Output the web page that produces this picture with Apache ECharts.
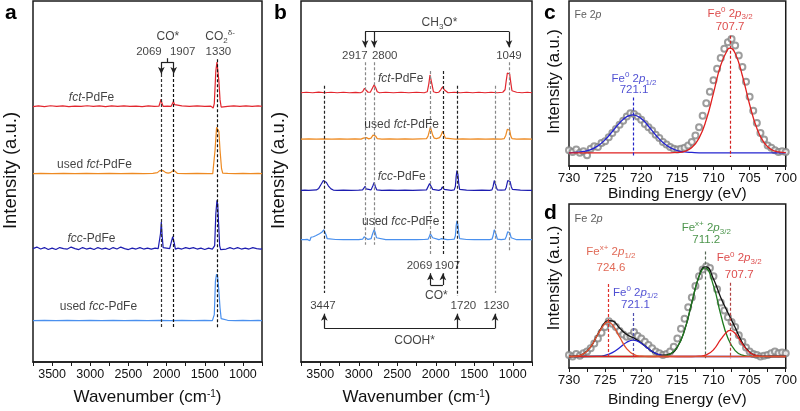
<!DOCTYPE html>
<html><head><meta charset="utf-8">
<script src="https://cdn.jsdelivr.net/npm/echarts/dist/echarts.min.js"></script>
<style>html,body{margin:0;padding:0;background:#fff}#c{width:800px;height:411px}</style>
</head><body><div id="c"></div>
<script>
// ---------------- DATA ----------------
const waveTicks = [3500, 3000, 2500, 2000, 1500, 1000];
const beTicks = [730, 725, 720, 715, 710, 705, 700];
const sampleNames = ['fct-PdFe', 'used fct-PdFe', 'fcc-PdFe', 'used fcc-PdFe'];

// Panel a (DRIFTS, stacked, arbitrary units) [wavenumber, intensity]
const a_fct = [[3750,259],[3680,259.6],[3600,259],[3520,259.8],[3440,259.2],[3360,259.7],[3280,259],[3200,259.5],[3120,259.1],[3040,259.8],[2960,259.2],[2880,259.6],[2800,259],[2720,259.7],[2640,259.2],[2560,259.6],[2480,259.1],[2400,259.5],[2320,259],[2240,259.6],[2160,259.1],[2100,259.3],[2085,260.5],[2072,266.5],[2060,262],[2045,259.2],[1990,259.5],[1940,259.2],[1925,260.5],[1910,264],[1895,261],[1880,259.3],[1800,259.6],[1700,259.1],[1600,259.6],[1500,259.2],[1420,259.4],[1390,257.5],[1375,262],[1355,295],[1340,304],[1330,302],[1315,285],[1300,266],[1285,258.5],[1270,259.6],[1200,259.2],[1120,259.7],[1040,259.1],[960,259.6],[880,259.2],[800,259.6],[750,259.3]];
const a_usedFct = [[3750,191],[3650,191.3],[3500,191],[3350,191.3],[3200,191],[3050,191.3],[2900,191],[2750,191.3],[2600,191],[2450,191.3],[2300,191],[2180,191.3],[2120,192],[2090,194],[2069,196],[2045,194],[2010,192],[1980,191.5],[1950,192],[1925,193.5],[1907,194.5],[1890,192.5],[1860,191.3],[1750,191],[1600,191.3],[1450,191],[1395,191],[1380,193],[1365,215],[1345,238],[1330,240],[1315,234],[1300,215],[1280,196],[1265,191.5],[1200,191.2],[1100,191],[1000,191.3],[900,191],[800,191.3],[750,191]];
const a_fcc = [[3750,115],[3700,116.5],[3650,114.5],[3600,116],[3550,114],[3500,115.5],[3450,114],[3400,116],[3350,115],[3300,114.5],[3250,116.5],[3200,115],[3150,114],[3100,116],[3050,114.5],[3000,115.5],[2950,114],[2900,116],[2850,114.5],[2800,115.5],[2750,114],[2700,116],[2650,114.5],[2600,116.5],[2550,115],[2500,114],[2450,115.5],[2400,114.5],[2350,116],[2300,114.5],[2250,115.5],[2200,114.5],[2150,115.5],[2110,115],[2090,117],[2080,130],[2069,142],[2058,128],[2045,116],[2030,114.5],[2000,115.5],[1960,115],[1935,117],[1920,127],[1910,129],[1898,120],[1885,114.5],[1850,115.5],[1800,114.5],[1750,116],[1700,115],[1650,116],[1600,114.5],[1550,115.5],[1500,114],[1450,115.5],[1400,114.5],[1385,113],[1370,118],[1355,150],[1340,164],[1330,160],[1318,140],[1305,118],[1292,114],[1270,115.5],[1220,114.5],[1170,116],[1120,114.5],[1070,116],[1020,114.5],[970,115.5],[920,114.5],[870,116],[820,115],[770,114.5],[750,115]];
const a_usedFcc = [[3750,42],[3600,42.3],[3450,42],[3300,42.3],[3150,42],[3000,42.3],[2850,42],[2700,42.3],[2550,42],[2400,42.3],[2250,42],[2100,42.3],[1950,42],[1800,42.3],[1650,42],[1500,42.3],[1400,42],[1385,42],[1375,48],[1360,82],[1345,89],[1330,86],[1315,72],[1300,55],[1285,44],[1270,42],[1200,42.3],[1100,42],[1000,42.3],[900,42],[800,42.3],[750,42]];

// Panel b
const b_fct = [[3750,273],[3680,273.5],[3600,273],[3520,273.6],[3440,273],[3360,273.5],[3280,273],[3200,273.5],[3120,273],[3040,273.4],[2980,273],[2950,274],[2925,277.5],[2905,276],[2880,273.5],[2850,273.5],[2820,278],[2800,281],[2780,278],[2760,274],[2730,273],[2650,273.5],[2550,273],[2450,273.5],[2350,273],[2250,273.5],[2150,273],[2110,274],[2090,282],[2075,291],[2060,290],[2045,280],[2030,274],[2000,273.2],[1960,273.5],[1935,276],[1910,279],[1890,276],[1870,274],[1840,273],[1760,273.5],[1680,273],[1600,273.5],[1520,273],[1440,273.5],[1360,273],[1280,273.5],[1200,273],[1130,273.5],[1100,276],[1085,285],[1070,293],[1055,294],[1040,292],[1025,283],[1010,275],[995,273],[950,273.5],[880,273],[810,273.5],[750,273]];
const b_usedFct = [[3750,226],[3650,226.3],[3550,226],[3450,226.3],[3350,226],[3250,226.3],[3150,226],[3050,226.3],[2970,226],[2940,227],[2920,229],[2900,227.5],[2870,226.2],[2840,227],[2815,230],[2800,231],[2780,229],[2760,226.5],[2700,226],[2600,226.3],[2500,226],[2400,226.3],[2300,226],[2200,226.3],[2120,226.5],[2100,229],[2080,235],[2069,238],[2055,236],[2040,230],[2020,227],[1990,226.5],[1950,227.5],[1930,230],[1910,234],[1895,231],[1875,227],[1850,226.2],[1750,226],[1650,226.3],[1550,226],[1450,226.3],[1350,226],[1250,226.3],[1150,226],[1110,226.5],[1090,230],[1070,236],[1055,237],[1040,235],[1025,229],[1010,226.5],[950,226],[850,226.3],[750,226]];
const b_fcc = [[3750,174],[3700,174.3],[3650,174],[3600,174.3],[3550,174.5],[3520,176],[3490,180],[3460,184],[3440,185],[3420,182],[3390,178],[3360,175.5],[3330,174.3],[3280,174],[3200,174.3],[3100,174],[3000,174.3],[2950,174.5],[2930,176],[2917,178],[2905,175.5],[2880,174.3],[2840,174.5],[2815,179],[2800,182],[2785,178],[2765,174.5],[2700,174],[2600,174.3],[2500,174],[2400,174.3],[2300,174],[2200,174.3],[2120,174.5],[2095,176],[2080,181],[2069,183],[2055,180],[2040,175],[2020,174.3],[1960,174],[1930,175],[1915,177.5],[1905,178],[1890,175],[1870,174.2],[1800,174],[1760,174.5],[1745,178],[1735,188],[1725,194],[1712,190],[1700,180],[1690,175],[1670,174],[1600,174.3],[1500,174],[1400,174.3],[1300,174],[1270,174.5],[1255,178],[1240,184],[1225,183],[1212,177],[1200,174.5],[1150,174.3],[1100,174.5],[1085,177],[1065,184],[1050,185],[1035,183],[1020,178],[1005,175],[990,174],[900,174.3],[800,174],[750,174]];
const b_usedFcc = [[3750,124],[3700,124],[3670,124.3],[3650,126],[3635,123],[3620,126.5],[3605,124.5],[3590,127],[3575,126],[3560,128],[3540,128.5],[3510,130],[3480,131.5],[3455,134],[3440,133],[3425,129],[3410,125],[3390,124],[3300,124.2],[3200,124],[3100,124.2],[3000,124],[2950,124.5],[2930,127],[2917,128],[2905,126],[2880,124.3],[2840,125],[2820,130],[2800,134],[2785,131],[2770,126],[2750,124.3],[2650,124],[2550,124.2],[2450,124],[2350,124.2],[2250,124],[2150,124.2],[2100,124.5],[2085,127],[2070,130],[2055,129],[2040,126],[2020,124.3],[1960,124],[1930,125],[1915,126.5],[1905,126],[1890,124.5],[1850,124],[1800,124.2],[1760,124.5],[1745,128],[1735,138],[1725,143],[1712,139],[1700,130],[1690,125],[1670,124],[1600,124.2],[1500,124],[1400,124.2],[1300,124],[1270,124.5],[1255,128],[1240,134],[1228,135],[1215,129],[1200,124.5],[1150,124],[1100,124.5],[1085,127],[1065,132],[1052,133],[1038,131],[1020,126],[1005,124.3],[950,124],[850,124.2],[750,124]];

// Panel c (XPS Fe 2p, fresh) [binding energy, intensity]
const c_raw = [[730,9.5],[729.5,8.5],[729,10],[728.5,8],[728,9],[727.5,6.5],[727,10.5],[726.5,12],[726,11.5],[725.5,14],[725,15],[724.5,17.5],[724,20],[723.5,22.5],[723,25],[722.5,27.5],[722,30],[721.5,32],[721,31.5],[720.5,30],[720,28],[719.5,25.5],[719,23.5],[718.5,21.5],[718,19],[717.5,17],[717,14.5],[716.5,13],[716,11.5],[715.5,10.5],[715,10],[714.5,10.5],[714,11],[713.5,12.5],[713,14.5],[712.5,18.5],[712,23.5],[711.5,30.5],[711,38],[710.5,45],[710,52],[709.5,59],[709,65.5],[708.5,71],[708,75],[707.5,77],[707,73],[706.5,67],[706,60],[705.5,51],[705,42],[704.5,33.5],[704,26],[703.5,20],[703,16],[702.5,12.5],[702,11],[701.5,9.5],[701,8.5],[700.5,9],[700,8.5]];
const c_fe0_32 = [[730,8],[716,8],[715,8.2],[714,8.9],[713,11.2],[712,16.9],[711,28],[710,44.2],[709,61.1],[708,70.9],[707.7,71.5],[707,68.3],[706,54.7],[705,37.3],[704,22.9],[703,14.1],[702,10],[701,8.5],[700,8.1]];
const c_fe0_12 = [[730,8.1],[729,8.3],[728,8.8],[727,9.9],[726,12.2],[725,15.9],[724,20.9],[723,26.1],[722,29.9],[721.2,31],[720,28.7],[719,24.1],[718,18.8],[717,14.2],[716,11.1],[715,9.3],[714,8.5],[713,8.2],[712,8],[700,8]];

// Panel d (XPS Fe 2p, used)
const d_raw = [[730,8],[729.5,7],[729,8.5],[728.5,7.5],[728,9],[727.5,10],[727,12],[726.5,15],[726,18],[725.5,21.5],[725,25],[724.5,28.5],[724,27],[723.5,25],[723,22.5],[722.5,20.5],[722,19],[721.5,19.5],[721,22],[720.5,19.5],[720,18],[719.5,16],[719,14],[718.5,12],[718,10],[717.5,9],[717,8],[716.5,8.5],[716,10],[715.5,13],[715,18],[714.5,24],[714,30],[713.5,37],[713,43],[712.5,50],[712,56],[711.5,60],[711,62],[710.5,61],[710,56],[709.5,48],[709,40],[708.5,35],[708,31],[707.5,28],[707,25],[706.5,20],[706,16],[705.5,12.5],[705,10],[704.5,8.5],[704,8],[703.5,7],[703,7.5],[702.5,8],[702,9],[701.5,10],[701,9],[700.5,9.5],[700,9]];
const d_fex_12 = [[730,7],[729,7.3],[728,8.6],[727,12.8],[726,20.6],[725,27.3],[724.6,28],[724,26.4],[723,18.9],[722,11.7],[721,8.2],[720,7.2],[719,7],[700,7]];
const d_fe0_12 = [[730,7],[726,7.15],[725,7.7],[724,9.35],[723,12.4],[722,15.7],[721.1,17],[720,15.1],[719,11.7],[718,8.9],[717,7.55],[716,7.1],[715,7],[700,7]];
const d_fex_32 = [[730,7],[718,7],[717,7.3],[716,8.5],[715,12.8],[714,23.1],[713,39.8],[712,55.9],[711.2,61],[710,50.2],[709,32.6],[708,18.1],[707,10.6],[706,7.8],[705,7.1],[704,7],[700,7]];
const d_fe0_32 = [[730,7],[713,7],[712,7.2],[711,8],[710,11.1],[709,17.4],[708,22.6],[707.7,23],[707,21.1],[706,14.6],[705,9.5],[704,7.5],[703,7.1],[702,7],[700,7]];
const d_env = [[730,7],[729,7.3],[728,8.6],[727,12.8],[726,20.75],[725,28],[724.5,28.9],[724,28.75],[723,24.3],[722,20.4],[721,18.2],[720,15.3],[719,11.7],[718,8.9],[717,7.85],[716,8.6],[715,12.8],[714,23.1],[713,39.8],[712,56],[711.2,61.7],[711,61.7],[710,54.3],[709,43],[708,33.7],[707,24.7],[706,15.4],[705,9.6],[704,7.5],[703,7.1],[702,7],[700,7]];

// ---------------- ANNOTATIONS ----------------
const FF = 'Liberation Sans, Arial, Helvetica, sans-serif';
function rich(fs, color) {
  const s = Math.round(fs * 0.68);
  return {
    n: {fontSize: fs, color, fontFamily: FF, lineHeight: fs + 4},
    i: {fontSize: fs, color, fontFamily: FF, fontStyle: 'italic', lineHeight: fs + 4},
    sub: {fontSize: s, color, fontFamily: FF, verticalAlign: 'bottom', lineHeight: s},
    sup: {fontSize: s, color, fontFamily: FF, verticalAlign: 'top', lineHeight: s}
  };
}
// text items: [x, y, richText, color, fontSize, align]
const aTexts = [
  [1984, 330, '{n|CO*}', '#111', 12], [2231, 314, '{n|2069}', '#111', 11.5], [1789, 314, '{n|1907}', '#111', 11.5],
  [1300, 330, '{n|CO}{sub|2}{sup|δ-}', '#111', 12], [1321, 314, '{n|1330}', '#111', 11.5],
  [2984, 268, '{i|fct}{n|-PdFe}', '#111', 12], [2945, 200, '{n|used }{i|fct}{n|-PdFe}', '#111', 12],
  [2984, 125, '{i|fcc}{n|-PdFe}', '#111', 12], [2893, 56, '{n|used }{i|fcc}{n|-PdFe}', '#111', 12]
];
const bTexts = [
  [1952, 344, '{n|CH}{sub|3}{n|O*}', '#111', 12], [3051, 310, '{n|2917}', '#111', 11.5], [2663, 310, '{n|2800}', '#111', 11.5], [1049, 310, '{n|1049}', '#111', 11.5],
  [2456, 287, '{i|fct}{n|-PdFe}', '#111', 12], [2443, 241, '{n|used }{i|fct}{n|-PdFe}', '#111', 12],
  [2443, 188, '{i|fcc}{n|-PdFe}', '#111', 12], [2456, 142, '{n|used }{i|fcc}{n|-PdFe}', '#111', 12],
  [2211, 97, '{n|2069}', '#111', 11.5], [1848, 97, '{n|1907}', '#111', 11.5], [1991, 67, '{n|CO*}', '#111', 12],
  [3465, 57, '{n|3447}', '#111', 11.5], [1641, 57, '{n|1720}', '#111', 11.5], [1214, 57, '{n|1230}', '#111', 11.5],
  [2275, 22, '{n|COOH*}', '#111', 12]
];
const cTexts = [
  [729.3, 91.5, '{n|Fe 2}{i|p}', '#333', 10.5, 'left'],
  [707.7, 92.5, '{n|Fe}{sup|0}{n| 2}{i|p}{sub|3/2}', '#d42020', 11.5], [707.7, 84.5, '{n|707.7}', '#d42020', 11.5],
  [721.0, 52.7, '{n|Fe}{sup|0}{n| 2}{i|p}{sub|1/2}', '#2424c8', 11.5], [721.0, 46, '{n|721.1}', '#2424c8', 11.5]
];
const dTexts = [
  [729.3, 90.9, '{n|Fe 2}{i|p}', '#333', 11, 'left'],
  [724.2, 70.9, '{n|Fe}{sup|x+}{n| 2}{i|p}{sub|1/2}', '#d8432c', 11.5], [724.2, 60.8, '{n|724.6}', '#d8432c', 11.5],
  [720.8, 46.1, '{n|Fe}{sup|0}{n| 2}{i|p}{sub|1/2}', '#2424c8', 11.5], [720.8, 38.4, '{n|721.1}', '#2424c8', 11.5],
  [711.0, 85.5, '{n|Fe}{sup|x+}{n| 2}{i|p}{sub|3/2}', '#1f7a1f', 11.5], [711.0, 78, '{n|711.2}', '#1f7a1f', 11.5],
  [706.45, 66.9, '{n|Fe}{sup|0}{n| 2}{i|p}{sub|3/2}', '#d42020', 11.5], [706.45, 56.7, '{n|707.7}', '#d42020', 11.5]
];
// guide lines: [x, yStart, yEnd, color]
const aGuides = [[2069, 292, 34, '#333'], [1907, 292, 34, '#111'], [1330, 307, 35, '#111']];
const bGuides = [[3447, 280, 70, '#222'], [2917, 304, 119, '#888'], [2800, 304, 119, '#888'], [2069, 295, 109, '#888'], [1907, 295, 109, '#222'], [1720, 280, 67, '#222'], [1230, 280, 70, '#888'], [1049, 304, 112, '#888']];
const cGuides = [[707.7, 79, 5.5, '#d42020'], [721.1, 41.5, 5.5, '#2424c8']];
const dGuides = [[724.6, 51.2, 5.5, '#e0302a'], [721.1, 33.5, 6, '#5050b0'], [711.2, 71, 6, '#556655'], [707.7, 52, 6, '#b04040']];
// bracket segments: [x1, y1, x2, y2, arrow]
const aBrackets = [[2069, 304, 1907, 304, 0], [2069, 304, 2069, 292, 1], [1907, 304, 1907, 292, 1], [1988, 304, 1988, 308, 0]];
const bBrackets = [[2917, 335, 1049, 335, 0], [2917, 335, 2917, 319, 1], [2800, 335, 2800, 319, 1], [1049, 335, 1049, 319, 1],
  [2069, 78, 1907, 78, 0], [2069, 78, 2069, 90, 1], [1907, 78, 1907, 90, 1],
  [3447, 34, 1230, 34, 0], [3447, 34, 3447, 49, 1], [1720, 34, 1720, 49, 1], [1230, 34, 1230, 49, 1]];

// ---------------- CHART ----------------
const chart = echarts.init(document.getElementById('c'), null, {renderer: 'canvas'});
const grids = [
  {left: 31, top: 1, width: 231, height: 366},
  {left: 301, top: 1, width: 231, height: 366},
  {left: 569, top: 1, width: 220, height: 165},
  {left: 569, top: 204, width: 220, height: 164}
].map(g => Object.assign(g, {show: true, borderColor: '#1a1a1a', borderWidth: 1.5, containLabel: false}));

function xAx(i) {
  const ir = i < 2;
  return {
    gridIndex: i, type: 'value', inverse: true,
    min: ir ? 750 : 700, max: ir ? 3750 : 730, interval: ir ? 250 : 2.5,
    axisLine: {show: true, lineStyle: {color: '#1a1a1a', width: 1.5}},
    axisTick: {show: true, inside: false, length: 4, lineStyle: {color: '#1a1a1a', width: 1}},
    axisLabel: {
      fontSize: ir ? 12.5 : 13.5, color: '#111', fontFamily: FF, margin: ir ? 6 : 5,
      formatter: v => (ir ? waveTicks : beTicks).indexOf(Math.round(v * 10) / 10) >= 0 ? String(v) : ''
    },
    splitLine: {show: false},
    name: ir ? '{n|Wavenumber (cm}{s|-1}{n|)}' : '{n|Binding Energy (eV)}',
    nameLocation: 'middle', nameGap: ir ? 27 : (i === 2 ? 19 : 24),
    nameTextStyle: {rich: {n: {fontSize: ir ? 17 : 15.5, fontFamily: FF, color: '#111'}, s: {fontSize: 10, fontFamily: FF, color: '#111', verticalAlign: 'top'}}}
  };
}
function yAx(i) {
  const ir = i < 2;
  return {
    gridIndex: i, type: 'value', min: 0, max: ir ? 366 : 100,
    axisLine: {show: false}, axisTick: {show: false}, axisLabel: {show: false}, splitLine: {show: false},
    name: 'Intensity (a.u.)', nameLocation: 'middle', nameRotate: 90, nameGap: ir ? 13 : 6,
    nameTextStyle: {fontSize: ir ? 18.5 : 16.5, fontFamily: FF, color: '#111',
      padding: ir ? [0, 0, 0, 22] : (i === 3 ? [0, 0, 0, 16] : [0, 0, 0, 4])}
  };
}
function spec(data, color, i, w, z) {
  return {type: 'line', xAxisIndex: i, yAxisIndex: i, data, symbol: 'none', showSymbol: false,
    lineStyle: {color, width: w || 1.2}, itemStyle: {color}, silent: true, z: z || 3, animation: false};
}
function fit(data, color, i, z) {
  return Object.assign(spec(data, color, i, 1.3, z), {smooth: 0.5});
}
function annot(texts, guides, brackets, i) {
  const ml = [];
  guides.forEach(g => ml.push([
    {coord: [g[0], g[1]], lineStyle: {color: g[3], type: [3, 2], width: 1.2}, symbol: 'none'},
    {coord: [g[0], g[2]], symbol: 'none'}]));
  brackets.forEach(b => ml.push([
    {coord: [b[0], b[1]], lineStyle: {color: '#222', type: 'solid', width: 1.2}, symbol: 'none'},
    {coord: [b[2], b[3]], symbol: b[4] ? 'arrow' : 'none', symbolSize: [5, 7]}]));
  return {
    type: 'scatter', xAxisIndex: i, yAxisIndex: i, symbolSize: 1, silent: true, z: 10, animation: false,
    itemStyle: {color: 'rgba(0,0,0,0)'},
    data: texts.map(t => ({
      value: [t[0], t[1]],
      label: {show: true, position: t[5] === 'left' ? 'right' : 'inside', distance: 0, formatter: t[2], rich: rich(t[4], t[3])}
    })),
    markLine: {silent: true, animation: false, label: {show: false}, symbol: 'none', data: ml}
  };
}
function raw(data, i) {
  return {type: 'scatter', xAxisIndex: i, yAxisIndex: i, data, symbol: 'emptyCircle', symbolSize: 6,
    itemStyle: {color: '#858585', borderWidth: 1.1}, silent: true, z: 1, animation: false};
}

const option = {
  animation: false,
  backgroundColor: '#fff',
  grid: grids,
  xAxis: [0, 1, 2, 3].map(xAx),
  yAxis: [0, 1, 2, 3].map(yAx),
  series: [
    spec(a_fct, '#e2262e', 0), spec(a_usedFct, '#ee8a22', 0), spec(a_fcc, '#1d1db0', 0), spec(a_usedFcc, '#4a90ee', 0),
    annot(aTexts, aGuides, aBrackets, 0),
    spec(b_fct, '#e2262e', 1), spec(b_usedFct, '#ee8a22', 1), spec(b_fcc, '#1d1db0', 1), spec(b_usedFcc, '#4a90ee', 1),
    annot(bTexts, bGuides, bBrackets, 1),
    raw(c_raw, 2), fit(c_fe0_12, '#2424d0', 2, 3), fit(c_fe0_32, '#e02020', 2, 4),
    annot(cTexts, cGuides, [], 2),
    raw(d_raw, 3), fit(d_env, '#111', 3, 2), fit(d_fe0_12, '#2424d0', 3, 3), fit(d_fex_32, '#1f7a1f', 3, 4),
    fit(d_fe0_32, '#e02020', 3, 5), fit(d_fex_12, '#e0502e', 3, 5),
    annot(dTexts, dGuides, [], 3)
  ],
  graphic: [
    {type: 'text', left: 5, top: 3, style: {text: 'a', font: 'bold 21px ' + FF, fill: '#000'}},
    {type: 'text', left: 274, top: 3, style: {text: 'b', font: 'bold 21px ' + FF, fill: '#000'}},
    {type: 'text', left: 544, top: 3, style: {text: 'c', font: 'bold 21px ' + FF, fill: '#000'}},
    {type: 'text', left: 544, top: 203, style: {text: 'd', font: 'bold 21px ' + FF, fill: '#000'}}
  ]
};
chart.setOption(option);
</script></body></html>
